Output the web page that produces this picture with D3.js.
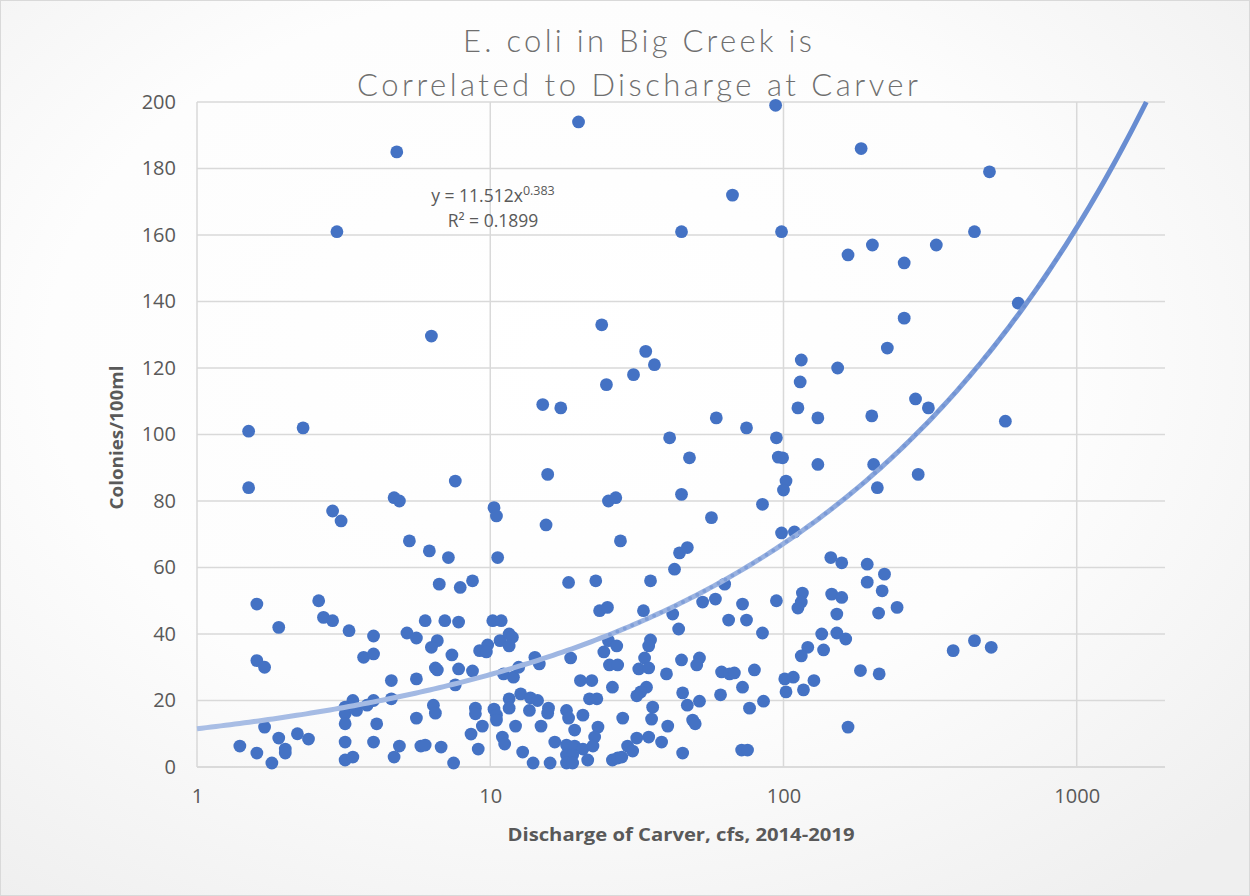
<!DOCTYPE html>
<html>
<head>
<meta charset="utf-8">
<script src="https://cdn.jsdelivr.net/npm/d3@7"></script>
<style>
  html, body { margin: 0; padding: 0; background: #fff; }
  svg { display: block; }
</style>
</head>
<body>
<svg class="chart" width="1250" height="896"></svg>
<script>
// discharge (cfs) and E. coli (colonies/100ml)
var discharge = [5.3,1.6,2.6,2.7,2.9,1.9,3.3,4.0,5.2,5.6,1.6,1.7,3.7,4.0,4.6,5.6,3.4,3.2,3.2,3.5,
  3.8,4.0,4.6,5.6,3.2,4.1,1.7,1.9,2.2,2.4,1.4,1.6,1.8,2.0,2.0,3.2,4.0,4.9,4.7,3.2,
  3.4,5.8,1.5,2.3,1.5,2.9,3.1,4.7,4.9,7.6,10.3,10.5,6.2,7.2,10.6,6.7,7.9,8.7,18.5,22.9,
  23.6,25.1,6.0,7.0,7.8,10.2,10.9,6.6,6.3,7.4,9.2,9.8,10.8,11.6,11.9,11.6,9.7,14.2,18.8,25.3,
  24.4,27,27.8,6.5,6.6,7.8,8.7,7.6,11.1,12,12.5,14.7,20.3,22.2,25.5,27.2,26.1,12.7,11.6,13.7,
  14.5,21.8,23.1,6.4,6.5,8.9,8.9,10.3,10.5,10.5,11.6,13.6,15.8,15.7,18.2,18.5,20.7,9.4,8.6,12.2,
  14.9,19.4,23.3,22.7,11,11.2,6.0,6.8,9.1,16.6,18.2,19.4,20.7,22.4,12.9,18.2,19.1,21.5,26.1,7.5,
  14,16,18.2,19.1,27.2,44.2,47,42.5,35.2,63,53,58.6,72.5,94.6,116,115,112,33.3,41.9,65,
  74.8,43.9,84.8,35.2,34.7,121,33.6,44.9,51.7,115,32.1,34.7,39.9,50.6,61.5,65.5,68,79.6,101,108,
  127,34.1,32.6,31.6,45.3,61,72.5,47,51.7,35.8,85.5,76.6,102,117,28.3,35.5,49,50,40.3,31.6,
  34.7,29.4,30.6,28.1,38.4,45.3,72,75.4,145,158,193,221,193,217,146,158,152,211,244,135,
  152,163,137,379,448,511,183,212,166,24.9,30.8,15.1,17.4,59,74.8,40.9,94.6,114,112,131,
  47.8,96,99.3,131,15.7,102,100,44.9,25.3,26.8,84.8,15.5,56.8,98.5,109,200,282,312,571,203,
  209,288,20,4.8,3.0,6.3,24,94,184,504,67,44.9,98.5,166,201,258,332,448,632,258,226,115,
  153,33.9,36.3];
var colonies = [68,49,50,45,44,42,41,39.4,40.3,38.8,32,30,33,34,26,26.5,20,18,16,17,
  18.6,20,20.5,14.7,13,13,12,8.7,10,8.4,6.3,4.2,1.2,5.4,4.2,7.5,7.5,6.3,3,2.1,
  3,6.3,101,102,84,77,74,81,80,86,78,75.5,65,63,63,55,54,56,55.5,56,
  47,48,44,44,43.6,44,44,38,36,33.7,35,36.7,38,40,39,36.4,34.6,33,32.8,38,
  34.6,36.4,68,29.8,29.2,29.5,28.9,24.7,28,27,30,31,26,26,30.7,30.7,24,22,20.5,20.8,
  20,20.5,20.5,18.6,16.2,17.7,16,17.4,15.6,14.1,17.7,17,17.7,16.2,17,14.7,15.6,12.3,9.9,12.3,
  12.3,11.1,12,9,9,6.9,6.6,6,5.4,7.5,6.6,6.3,5.4,6.3,4.5,3.6,3.6,2.1,2.1,1.2,
  1.2,1.2,1.2,1.2,2.7,64.4,66,59.5,56,55,49.6,50.5,49,50,52.3,49.6,47.8,47,46,44.2,
  44.2,41.5,40.3,38.2,36.4,36,32.8,32.2,32.8,33.4,29.5,29.8,28,30.7,28.6,28,28.3,29.2,26.5,27,
  26,24,22.6,21.4,22.3,21.7,24,18.6,19.8,18,19.8,17.7,22.6,23.2,14.7,14.4,14.1,13,12.3,8.7,
  9,6.3,4.8,3,7.5,4.2,5.1,5.1,63,61.4,61,58,55.6,53,52,51,46,46.3,48,40,
  40.3,38.5,35.2,35,38,36,29,28,12,115,118,109,108,105,102,99,99,115.8,108,105,
  93,93.2,93,91,88,86,83.3,82,80,81,79,72.8,75,70.4,70.7,105.6,110.7,108,104,91,
  84,88,194,185,161,129.6,133,199,186,179,172,161,161,154,157,151.6,157,161,139.5,135,126,122.4,
  120,125,121];

var xTicks = [1, 10, 100, 1000];
var yTicks = [0, 20, 40, 60, 80, 100, 120, 140, 160, 180, 200];
var titleLines = ["E. coli in Big Creek is", "Correlated to Discharge at Carver"];
var xLabel = "Discharge of Carver, cfs, 2014-2019";
var yLabel = "Colonies/100ml";
var trendA = 11.512, trendB = 0.383, rSquared = 0.1899;

var W = 1250, H = 896,
    plot = {left: 197, right: 1165, top: 102, bottom: 767},
    grey = "#595959",
    dotColor = "#4472c4",
    font = "'Open Sans', 'Liberation Sans', sans-serif",
    svg = d3.select("svg.chart");

var x = d3.scaleLog().domain([1, 2000]).range([plot.left, plot.right]);
var y = d3.scaleLinear().domain([0, 200]).range([plot.bottom, plot.top]);

// background
var defs = svg.append("defs");
var bg = defs.append("radialGradient").attr("id", "bg")
  .attr("cx", "45%").attr("cy", "40%").attr("r", "75%");
bg.append("stop").attr("offset", "0%").attr("stop-color", "#ffffff");
bg.append("stop").attr("offset", "55%").attr("stop-color", "#fdfdfd");
bg.append("stop").attr("offset", "100%").attr("stop-color", "#efefef");

var tg = defs.append("linearGradient").attr("id", "trend")
  .attr("gradientUnits", "userSpaceOnUse")
  .attr("x1", plot.left).attr("x2", plot.right).attr("y1", 0).attr("y2", 0);
tg.append("stop").attr("offset", "0%").attr("stop-color", "#a9bee5");
tg.append("stop").attr("offset", "60%").attr("stop-color", "#98b1e0");
tg.append("stop").attr("offset", "100%").attr("stop-color", "#6389d0");

svg.append("rect").attr("x", 0.5).attr("y", 0.5).attr("width", W - 1).attr("height", H - 1)
  .attr("fill", "url(#bg)").attr("stroke", "#d9d9d9");

// gridlines
svg.append("g").selectAll("line").data(yTicks).enter().append("line")
  .attr("x1", plot.left).attr("x2", plot.right)
  .attr("y1", function(d) { return y(d); }).attr("y2", function(d) { return y(d); })
  .attr("stroke", function(d) { return d === 0 ? "#d0d0d0" : "#d9d9d9"; })
  .attr("stroke-width", 1.5);

svg.append("g").selectAll("line").data(xTicks).enter().append("line")
  .attr("x1", function(d) { return x(d); }).attr("x2", function(d) { return x(d); })
  .attr("y1", plot.top).attr("y2", plot.bottom)
  .attr("stroke", "#d9d9d9").attr("stroke-width", 1.5);

// axes (labels only)
var yAxis = d3.axisLeft(y).tickValues(yTicks).tickSize(0).tickPadding(21);
svg.append("g").attr("id", "yAxisG")
  .attr("transform", "translate(" + plot.left + ",0)")
  .call(yAxis);

var xAxis = d3.axisBottom(x).tickValues(xTicks).tickSize(0).tickPadding(22)
  .tickFormat(d3.format("d"));
svg.append("g").attr("id", "xAxisG")
  .attr("transform", "translate(0," + plot.bottom + ")")
  .call(xAxis);

svg.selectAll("#xAxisG path, #yAxisG path").remove();
svg.selectAll("#xAxisG text, #yAxisG text")
  .attr("fill", grey)
  .style("font-family", font)
  .style("font-size", "20px");

// points
svg.append("g").selectAll("circle").data(discharge).enter().append("circle")
  .attr("cx", function(d) { return x(d); })
  .attr("cy", function(d, i) { return y(colonies[i]); })
  .attr("r", 6.4)
  .attr("fill", dotColor);

// power trendline
var xEnd = Math.pow(200 / trendA, 1 / trendB);
var trendX = d3.range(0, 201).map(function(i) {
  return Math.pow(10, Math.log10(xEnd) * i / 200);
});
var line = d3.line()
  .x(function(d) { return x(d); })
  .y(function(d) { return y(trendA * Math.pow(d, trendB)); });
svg.append("path").datum(trendX)
  .attr("d", line)
  .attr("fill", "none")
  .attr("stroke", "url(#trend)")
  .attr("stroke-width", 5)
  .attr("stroke-linecap", "butt");

// faint round dots seen along the middle of the line
svg.append("path").datum(trendX.filter(function(d) { return d > 25 && d < 900; }))
  .attr("d", line)
  .attr("fill", "none")
  .attr("stroke", "#5f86cf")
  .attr("stroke-opacity", 0.45)
  .attr("stroke-width", 4)
  .attr("stroke-linecap", "round")
  .attr("stroke-dasharray", "0 8");

// equation
var eq = svg.append("text").attr("x", 493).attr("y", 202)
  .attr("text-anchor", "middle").attr("fill", grey)
  .style("font-family", font)
  .style("font-size", "17.5px");
eq.append("tspan").text("y = " + trendA + "x");
eq.append("tspan").attr("dy", -7).style("font-size", "12.5px").text(trendB);
svg.append("text").attr("x", 493).attr("y", 227)
  .attr("text-anchor", "middle").attr("fill", grey)
  .style("font-family", font)
  .style("font-size", "17.5px")
  .text("R\u00b2 = " + rSquared);

// title
var titleW = [349, 561];
svg.append("g").selectAll("text").data(titleLines).enter().append("text")
  .attr("x", 637.5)
  .attr("y", function(d, i) { return 52 + i * 44; })
  .attr("text-anchor", "middle")
  .attr("textLength", function(d, i) { return titleW[i]; })
  .attr("lengthAdjust", "spacing")
  .attr("fill", "#6f6f6f")
  .style("font-family", "Lato, 'Open Sans', sans-serif")
  .style("font-weight", 300)
  .style("font-size", "31px")
  .text(function(d) { return d; });

// axis titles
svg.append("text").attr("x", 681).attr("y", 841)
  .attr("text-anchor", "middle").attr("fill", grey)
  .attr("textLength", 347).attr("lengthAdjust", "spacingAndGlyphs")
  .style("font-family", font)
  .style("font-weight", "bold").style("font-size", "18px")
  .text(xLabel);

svg.append("text")
  .attr("transform", "translate(123," + ((plot.top + plot.bottom) / 2 + 3) + ") rotate(-90)")
  .attr("text-anchor", "middle").attr("fill", grey)
  .attr("textLength", 144).attr("lengthAdjust", "spacingAndGlyphs")
  .style("font-family", font)
  .style("font-weight", "bold").style("font-size", "18px")
  .text(yLabel);
</script>
</body>
</html>
